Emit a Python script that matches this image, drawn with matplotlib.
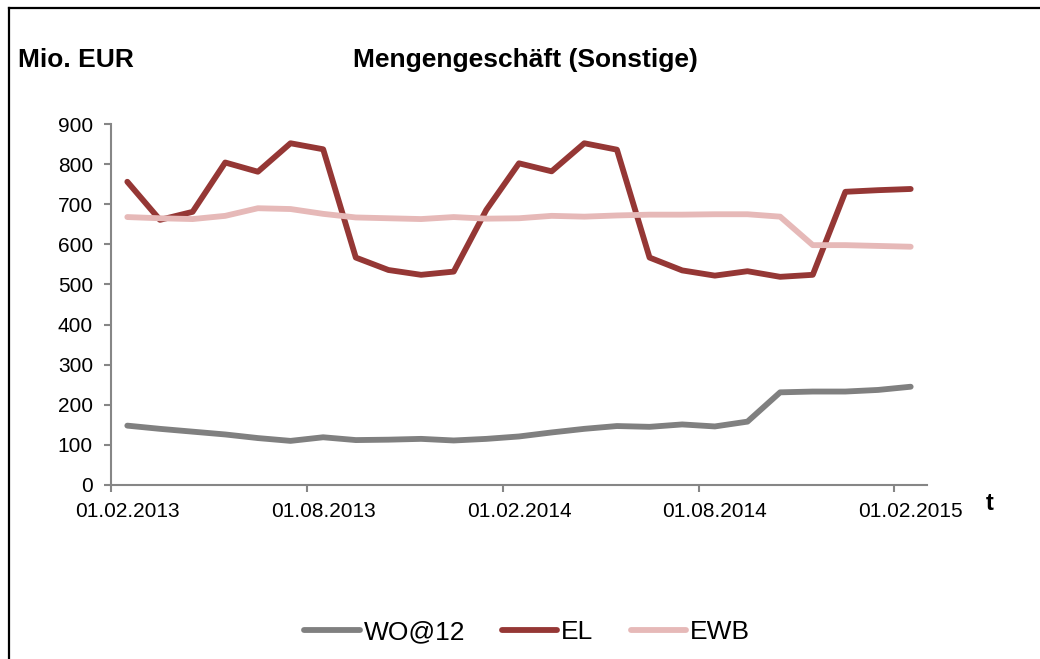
import matplotlib
matplotlib.use("Agg")
from matplotlib import pyplot as plt
from matplotlib.lines import Line2D

plt.rcParams['font.family'] = ['Liberation Sans', 'DejaVu Sans']

# monatliche Werte 01.02.2013 .. 01.02.2015
months = list(range(25))
tick_labels = ["01.02.2013", "01.08.2013", "01.02.2014", "01.08.2014", "01.02.2015"]

wo12 = [148, 140, 133, 126, 117, 110, 119, 112, 113, 115, 111, 115, 121,
        131, 140, 147, 145, 151, 146, 158, 231, 233, 233, 237, 245]
el = [756, 661, 681, 804, 781, 852, 837, 567, 536, 524, 532, 686, 802,
      782, 852, 836, 567, 535, 522, 533, 519, 524, 731, 735, 738]
ewb = [668, 665, 663, 671, 690, 688, 676, 667, 665, 663, 668, 664, 665,
       671, 669, 672, 674, 674, 675, 675, 669, 598, 598, 596, 594]

series = [("WO@12", wo12, "#808080"),
          ("EL", el, "#953735"),
          ("EWB", ewb, "#E6B9B8")]

fig = plt.figure(figsize=(10.4, 6.59), dpi=100)
ax = fig.add_axes([111 / 1040, 1 - 485 / 659, 816 / 1040, 361 / 659])

for name, vals, col in series:
    ax.plot(months, vals, color=col, lw=4.2, label=name,
            solid_capstyle='round', solid_joinstyle='round')

ax.set_xlim(-0.5, 24.5)
ax.set_ylim(0, 900)
ax.set_yticks(range(0, 901, 100))
# Striche am Monatsanfang, Beschriftung in Monatsmitte (wie Excel)
ax.set_xticks([-0.5, 5.5, 11.5, 17.5, 23.5])
ax.set_xticklabels([])
ax.set_xticks(months[::6], minor=True)
ax.set_xticklabels(tick_labels, minor=True)

axis_col = "#868686"
for s in ["top", "right"]:
    ax.spines[s].set_visible(False)
for s in ["left", "bottom"]:
    ax.spines[s].set_color(axis_col)
    ax.spines[s].set_linewidth(1.5)
ax.tick_params(axis='both', colors=axis_col, labelcolor='black', labelsize=15,
               length=5, width=1.5, direction='out')
ax.tick_params(axis='y', pad=8)
ax.tick_params(axis='x', which='minor', length=0, pad=12, labelsize=15,
               labelcolor='black')

fig.text(18 / 1040, 1 - 60 / 659, "Mio. EUR", fontsize=19, fontweight='bold',
         ha='left', va='center')
fig.text(525 / 1040, 1 - 60 / 659, "Mengengeschäft (Sonstige)", fontsize=19,
         fontweight='bold', ha='center', va='center')
fig.text(990 / 1040, 1 - 503 / 659, "t", fontsize=17, fontweight='bold',
         ha='center', va='center')

leg = fig.legend(loc='center', bbox_to_anchor=(527 / 1040, 1 - 632 / 659), ncol=3,
                 frameon=False, fontsize=19, handlelength=2.1, handletextpad=0.15,
                 columnspacing=1.4)
for h in leg.legend_handles:
    h.set_solid_capstyle('round')

# Rahmen (oben und links)
fig.add_artist(Line2D([9 / 1040, 1], [1 - 8 / 659, 1 - 8 / 659], color='black', lw=1.6,
                      transform=fig.transFigure))
fig.add_artist(Line2D([9 / 1040, 9 / 1040], [0, 1 - 8 / 659], color='black', lw=1.6,
                      transform=fig.transFigure))

plt.savefig("out.png", dpi=100)
